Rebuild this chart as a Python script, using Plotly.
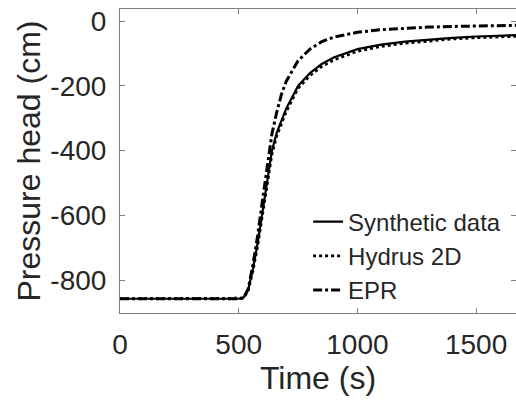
import plotly.graph_objects as go

time_s = [0, 500, 520, 540, 560, 580, 600, 620, 640, 660, 680, 700, 750, 800, 850, 900,
          1000, 1100, 1200, 1300, 1400, 1500, 1600, 1700]
synthetic = [-858, -858, -855, -830, -765, -685, -590, -495, -400, -345, -305, -270, -200,
             -160, -132, -112, -86, -72, -63, -56, -51, -47, -44, -42]
hydrus = [-858, -858, -856, -835, -772, -695, -600, -505, -412, -356, -315, -280, -208,
          -168, -140, -120, -93, -78, -68, -61, -55, -51, -48, -46]
epr = [-858, -858, -855, -828, -752, -662, -555, -445, -348, -282, -226, -186, -122,
       -86, -63, -49, -34, -26, -21, -18, -16, -14, -13, -12]

x_ticks = [0, 500, 1000, 1500]
y_ticks = [0, -200, -400, -600, -800]

FONT = "Liberation Sans, Arial, sans-serif"
TXT = "#262626"

fig = go.Figure()
fig.add_trace(go.Scatter(x=time_s, y=synthetic, mode="lines", name="Synthetic data",
                         line=dict(color="black", width=2.2, dash="solid")))
fig.add_trace(go.Scatter(x=time_s, y=hydrus, mode="lines", name="Hydrus 2D",
                         line=dict(color="black", width=2.6, dash="dot")))
fig.add_trace(go.Scatter(x=time_s, y=epr, mode="lines", name="EPR",
                         line=dict(color="black", width=3, dash="dashdot")))

axis_common = dict(showline=True, linecolor="#808080", linewidth=1, mirror="ticks",
                   ticks="inside", ticklen=5, tickcolor="#808080", showgrid=False,
                   zeroline=False, automargin=False, ticklabeloverflow="allow",
                   tickfont=dict(family=FONT, size=28, color=TXT))

fig.update_xaxes(range=[0, 1668], tickvals=x_ticks, ticktext=[str(v) for v in x_ticks],
                 ticklabelstandoff=6,
                 title=dict(text="Time (s)", font=dict(family=FONT, size=32, color=TXT), standoff=8),
                 **axis_common)
fig.update_yaxes(range=[-902, 38], tickvals=y_ticks, ticktext=[str(v) for v in y_ticks],
                 ticklabelstandoff=7,
                 title=dict(text="Pressure head (cm)", font=dict(family=FONT, size=32, color=TXT), standoff=0),
                 **axis_common)

fig.update_layout(
    width=516, height=400,
    margin=dict(l=120, r=0, t=9, b=87),
    paper_bgcolor="white", plot_bgcolor="white",
    font=dict(family=FONT, color=TXT),
    legend=dict(x=0.475, y=0.373, xanchor="left", yanchor="top",
                bgcolor="rgba(0,0,0,0)", borderwidth=0,
                font=dict(family=FONT, size=24, color=TXT),
                tracegroupgap=0, itemwidth=30),
    showlegend=True,
)

# remove the browser's default 8px body margin so the figure fills the 516x400 window
fig.write_html("out.html", config={"displayModeBar": False},
               post_script="document.body.style.margin='0px';document.body.style.overflow='hidden';")
